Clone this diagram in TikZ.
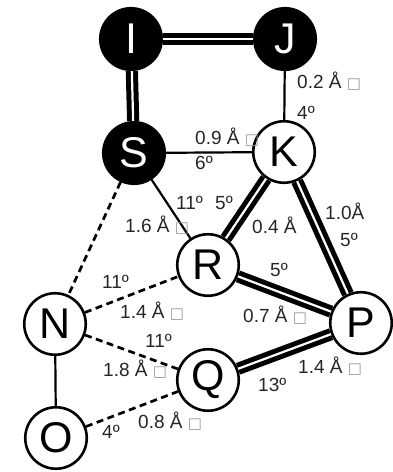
\documentclass[tikz,border=0pt]{standalone}
\usepackage{fontspec}
\setmainfont{Liberation Sans}
\newfontfamily\symfont{DejaVu Sans}
\newcommand\gbox{{\symfont\fontsize{15}{15}\selectfont\color{black!40}□}}
\tikzset{
  atom/.style={circle, minimum size=61.5pt, inner sep=0pt, line width=2.6pt,
    font=\fontsize{43}{43}\selectfont},
  wnode/.style={atom, draw=black, fill=white, text=black},
  bnode/.style={atom, draw=black, fill=black, text=white},
  dbl/.style={draw=black, line width=5pt, double=white, double distance=2.2pt},
  single/.style={draw=black, line width=2.2pt},
  dsh/.style={draw=black, line width=2.7pt, dash pattern=on 7pt off 4.5pt},
  lbl/.style={font=\fontsize{19}{19}\selectfont, text=black!85, inner sep=0pt, anchor=west}
}
\begin{document}
\begin{tikzpicture}[x=1pt, y=-1pt]
\useasboundingbox (0,0) rectangle (392,472);

% atoms
\node[bnode] (I) at (131,39) {I};
\node[bnode] (J) at (285,39) {J};
\node[bnode] (S) at (134,153) {S};
\node[wnode] (K) at (284,152) {K};
\node[wnode] (R) at (208,265) {R};
\node[wnode] (N) at (55,324) {N};
\node[wnode] (P) at (361,323) {P};
\node[wnode] (Q) at (208,380) {Q};
\node[wnode] (O) at (56,438) {O};

% bonds
\draw[dbl] (I) -- (J);
\draw[dbl] (I) -- (S);
\draw[dbl] (K) -- (R);
\draw[dbl] (K) -- (P);
\draw[dbl] (R) -- (P);
\draw[dbl] (Q) -- (P);
\draw[single] (J) -- (K);
\draw[single] (S) -- (K);
\draw[single] (S) -- (R);
\draw[single] (N) -- (O);
\draw[dsh] (S) -- (N);
\draw[dsh] (N) -- (R);
\draw[dsh] (N) -- (Q);
\draw[dsh] (O) -- (Q);

% bond labels
\node[lbl] (l1)  at (297,81)  {0.2 Å \gbox};
\node[lbl] (l2)  at (297,113) {4º};
\node[lbl] (l3)  at (195,137) {0.9 Å \gbox};
\node[lbl] (l4)  at (195,163) {6º};
\node[lbl] (l5)  at (176,203) {11º};
\node[lbl] (l6)  at (215,203) {5º};
\node[lbl] (l7)  at (125,225) {1.6 Å \gbox};
\node[lbl] (l8)  at (252,225) {0.4 Å};
\node[lbl] (l9)  at (325,211) {1.0Å};
\node[lbl] (l10) at (340,240) {5º};
\node[lbl] (l11) at (270,270) {5º};
\node[lbl] (l12) at (243,315) {0.7 Å \gbox};
\node[lbl] (l13) at (102,282) {11º};
\node[lbl] (l14) at (120,311) {1.4 Å \gbox};
\node[lbl] (l15) at (145,341) {11º};
\node[lbl] (l16) at (103,369) {1.8 Å \gbox};
\node[lbl] (l17) at (298,366) {1.4 Å \gbox};
\node[lbl] (l18) at (258,385) {13º};
\node[lbl] (l19) at (138,421) {0.8 Å \gbox};
\node[lbl] (l20) at (102,432) {4º};
\end{tikzpicture}
\end{document}
